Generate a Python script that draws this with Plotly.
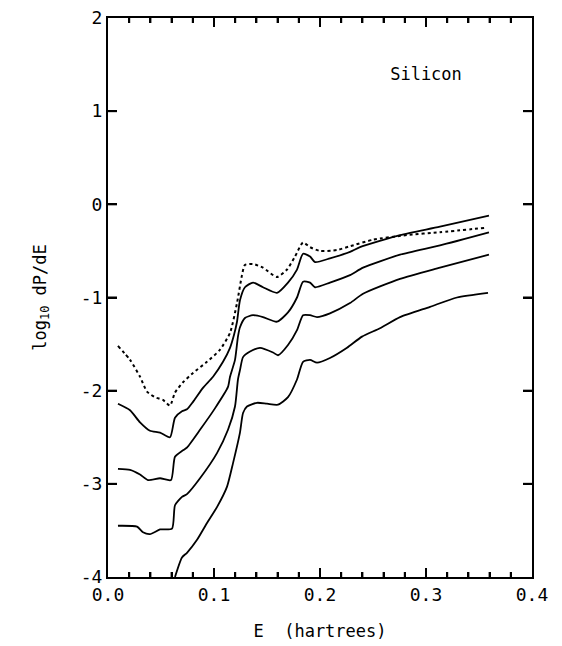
import plotly.graph_objects as go

# Energy-loss spectra for silicon: log10 dP/dE versus energy (hartrees)
dotted_E = [0.0094, 0.0208, 0.0302, 0.0368, 0.0443, 0.0519, 0.0585, 0.0632, 0.0708, 0.0802,
            0.0934, 0.1057, 0.1151, 0.1217, 0.1264, 0.1292, 0.1368, 0.1462, 0.1594, 0.1689,
            0.1764, 0.1840, 0.1906, 0.2000, 0.2160, 0.2283, 0.2500, 0.2821, 0.3132, 0.3575]
dotted_P = [-1.52, -1.67, -1.85, -2.01, -2.07, -2.10, -2.16, -2.02, -1.91, -1.81,
            -1.69, -1.56, -1.38, -1.06, -0.76, -0.65, -0.64, -0.68, -0.78, -0.70,
            -0.56, -0.41, -0.46, -0.50, -0.49, -0.45, -0.38, -0.33, -0.30, -0.25]

curve1_E = [0.0094, 0.0208, 0.0302, 0.0396, 0.0491, 0.0585, 0.0632, 0.0698, 0.0745, 0.0802,
            0.0896, 0.0991, 0.1085, 0.1151, 0.1189, 0.1217, 0.1245, 0.1292, 0.1368, 0.1462,
            0.1594, 0.1698, 0.1783, 0.1840, 0.1906, 0.1953, 0.2094, 0.2283, 0.2377, 0.2755,
            0.3132, 0.3594]
curve1_P = [-2.14, -2.21, -2.34, -2.43, -2.45, -2.50, -2.29, -2.22, -2.20, -2.12,
            -1.97, -1.85, -1.69, -1.54, -1.40, -1.26, -1.03, -0.89, -0.84, -0.89,
            -0.95, -0.84, -0.70, -0.53, -0.56, -0.62, -0.58, -0.51, -0.46, -0.33,
            -0.24, -0.12]

curve2_E = [0.0094, 0.0208, 0.0302, 0.0377, 0.0491, 0.0594, 0.0632, 0.0708, 0.0745, 0.0868,
            0.1009, 0.1132, 0.1151, 0.1198, 0.1226, 0.1245, 0.1292, 0.1368, 0.1462, 0.1594,
            0.1698, 0.1783, 0.1840, 0.1906, 0.1953, 0.2094, 0.2283, 0.2406, 0.2755, 0.3132,
            0.3594]
curve2_P = [-2.84, -2.85, -2.90, -2.96, -2.94, -2.96, -2.71, -2.64, -2.61, -2.42,
            -2.19, -1.96, -1.85, -1.67, -1.42, -1.32, -1.22, -1.19, -1.21, -1.26,
            -1.16, -1.00, -0.83, -0.84, -0.89, -0.84, -0.76, -0.68, -0.54, -0.44,
            -0.30]

curve3_E = [0.0094, 0.0274, 0.0330, 0.0396, 0.0491, 0.0604, 0.0632, 0.0698, 0.0745, 0.0868,
            0.1028, 0.1132, 0.1198, 0.1226, 0.1245, 0.1274, 0.1340, 0.1434, 0.1557, 0.1604,
            0.1698, 0.1783, 0.1840, 0.1906, 0.1972, 0.2094, 0.2283, 0.2406, 0.2755, 0.3132,
            0.3594]
curve3_P = [-3.45, -3.46, -3.52, -3.54, -3.49, -3.48, -3.23, -3.14, -3.11, -2.94,
            -2.67, -2.42, -2.17, -1.88, -1.78, -1.64, -1.58, -1.54, -1.59, -1.62,
            -1.51, -1.35, -1.19, -1.19, -1.21, -1.17, -1.06, -0.96, -0.80, -0.68,
            -0.54]

curve4_E = [0.0632, 0.0698, 0.0745, 0.0840, 0.0934, 0.1028, 0.1123, 0.1179, 0.1245, 0.1274,
            0.1311, 0.1406, 0.1500, 0.1604, 0.1698, 0.1783, 0.1840, 0.1906, 0.1972, 0.2094,
            0.2255, 0.2396, 0.2566, 0.2755, 0.3038, 0.3292, 0.3585]
curve4_P = [-4.00, -3.79, -3.74, -3.60, -3.42, -3.25, -3.03, -2.78, -2.45, -2.24,
            -2.17, -2.13, -2.14, -2.15, -2.07, -1.88, -1.69, -1.67, -1.70, -1.65,
            -1.54, -1.42, -1.33, -1.21, -1.10, -1.00, -0.95]

x_range = [0.0, 0.4]
y_range = [-4.0, 2.0]
x_ticks = [0.0, 0.1, 0.2, 0.3, 0.4]
x_ticklabels = ["0.0", "0.1", "0.2", "0.3", "0.4"]
x_minor_ticks = [0.02, 0.04, 0.06, 0.08, 0.12, 0.14, 0.16, 0.18, 0.22, 0.24, 0.26, 0.28,
                 0.32, 0.34, 0.36, 0.38]
y_ticks = [-4, -3, -2, -1, 0, 1, 2]
y_ticklabels = ["-4", "-3", "-2", "-1", "0", "1", "2"]

FONT = "DejaVu Sans Mono"
WIDTH, HEIGHT = 562, 646
MARGIN = dict(l=108, r=30, t=18, b=69)
MAJOR_TICK_PX, MINOR_TICK_PX = 9, 5

# pixel -> data conversion for the tick marks drawn along the frame
plot_w = WIDTH - MARGIN["l"] - MARGIN["r"]
plot_h = HEIGHT - MARGIN["t"] - MARGIN["b"]
dx_per_px = (x_range[1] - x_range[0]) / plot_w
dy_per_px = (y_range[1] - y_range[0]) / plot_h

fig = go.Figure()
fig.add_trace(go.Scatter(x=dotted_E, y=dotted_P, mode="lines", line_shape="spline",
                         line=dict(color="black", width=2, dash="dot", smoothing=0.6)))
for xs, ys in [(curve1_E, curve1_P), (curve2_E, curve2_P),
               (curve3_E, curve3_P), (curve4_E, curve4_P)]:
    fig.add_trace(go.Scatter(x=xs, y=ys, mode="lines", line_shape="spline",
                             line=dict(color="black", width=1.8, smoothing=0.6)))


def frame_ticks():
    """Inward tick marks on all four sides of the frame."""
    tx, ty = [], []
    inner_x = [v for v in x_ticks if x_range[0] < v < x_range[1]]
    inner_y = [v for v in y_ticks if y_range[0] < v < y_range[1]]
    for vals, px in ((inner_x, MAJOR_TICK_PX), (x_minor_ticks, MINOR_TICK_PX)):
        dy = px * dy_per_px
        for v in vals:
            tx += [v, v, None, v, v, None]
            ty += [y_range[0], y_range[0] + dy, None, y_range[1], y_range[1] - dy, None]
    dx = MAJOR_TICK_PX * dx_per_px
    for v in inner_y:
        tx += [x_range[0], x_range[0] + dx, None, x_range[1], x_range[1] - dx, None]
        ty += [v, v, None, v, v, None]
    return tx, ty


tick_x, tick_y = frame_ticks()
fig.add_trace(go.Scatter(x=tick_x, y=tick_y, mode="lines", hoverinfo="skip",
                         line=dict(color="black", width=2)))

fig.add_trace(go.Scatter(x=[0.3], y=[1.38], mode="text", text=["Silicon"],
                         textfont=dict(family=FONT, size=17, color="black"),
                         hoverinfo="skip"))

axis_common = dict(
    showgrid=False, zeroline=False, showline=True, linecolor="black", linewidth=2,
    mirror="allticks", ticks="inside", tickcolor="black", tickwidth=2,
    ticklen=MAJOR_TICK_PX, tickfont=dict(family=FONT, size=18, color="black"),
)

fig.update_layout(
    template="simple_white",
    width=WIDTH, height=HEIGHT,
    margin=dict(**MARGIN, autoexpand=False),
    plot_bgcolor="white", paper_bgcolor="white",
    showlegend=False,
)
fig.update_xaxes(
    range=x_range, tickvals=x_ticks, ticktext=x_ticklabels,
    minor=dict(ticks="inside", dtick=0.02, ticklen=MINOR_TICK_PX,
               tickcolor="black", tickwidth=2),
    title=dict(text="E\u00a0\u00a0(hartrees)", font=dict(family=FONT, size=17, color="black"),
               standoff=22),
    **axis_common,
)
fig.update_yaxes(
    range=y_range, tickvals=y_ticks, ticktext=y_ticklabels,
    title=dict(text="log<sub>10</sub> dP/dE", font=dict(family=FONT, size=17, color="black"),
               standoff=30),
    **axis_common,
)

fig.write_html("out.html")
